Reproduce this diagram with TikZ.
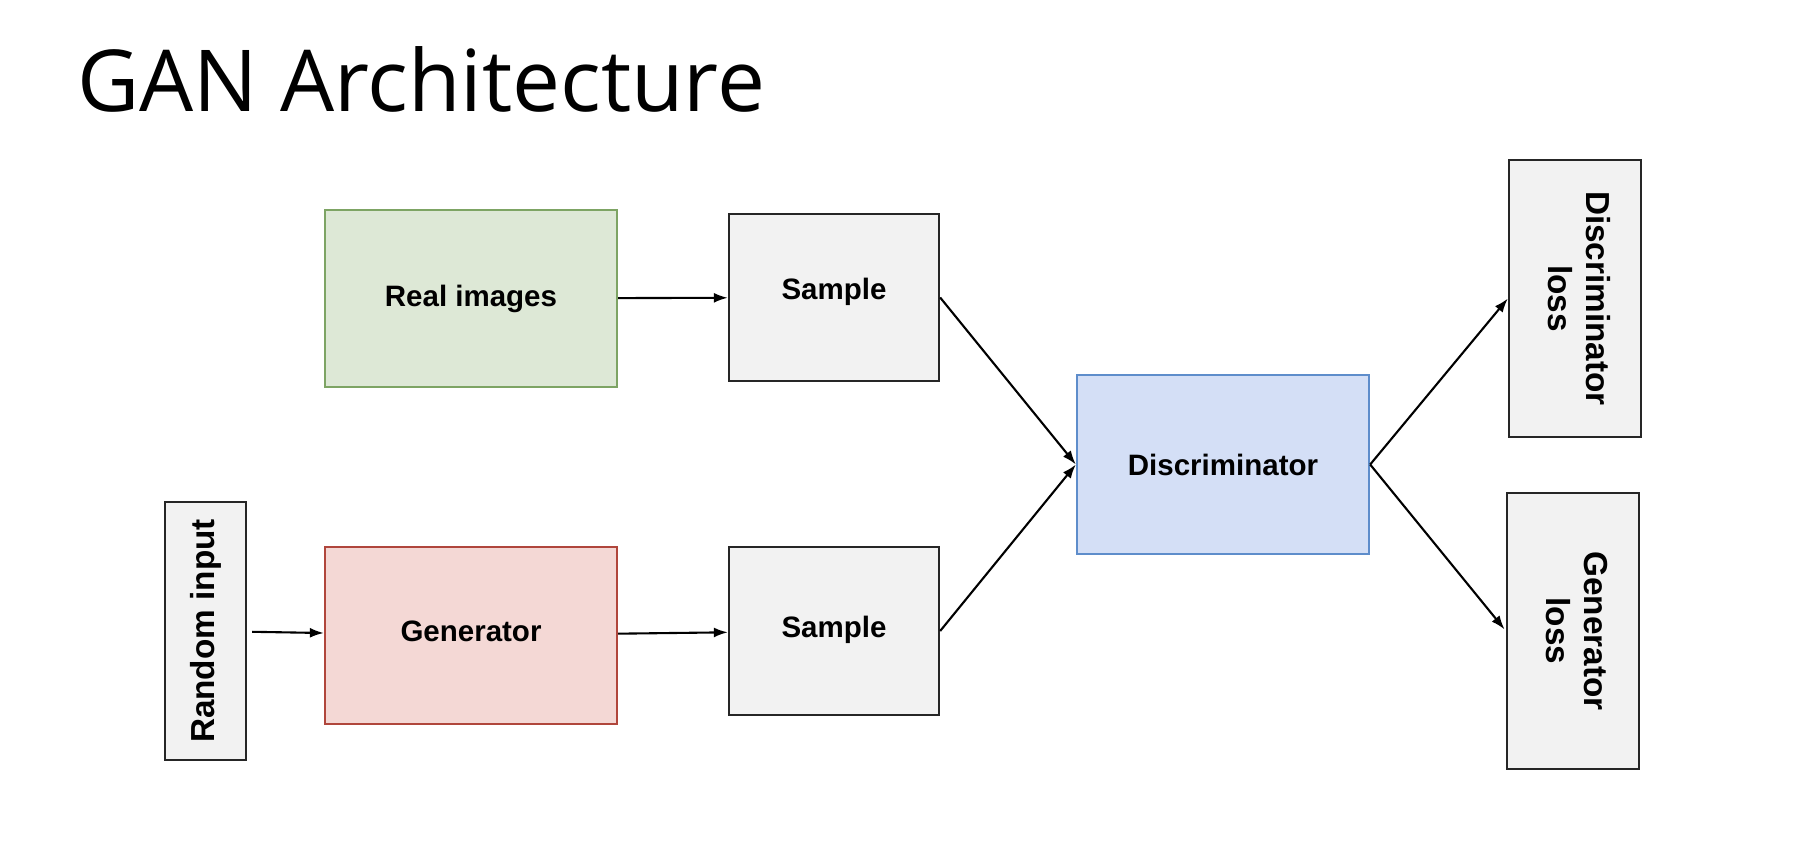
\documentclass[tikz,border=0pt]{standalone}
\usepackage{fontspec}
\setmainfont{Liberation Sans}
\newfontfamily\titlefont{Open Sans}
\usetikzlibrary{shapes,arrows.meta}

\definecolor{realfill}{HTML}{DDE8D6}
\definecolor{realdraw}{HTML}{7DA464}
\definecolor{genfill}{HTML}{F4D8D5}
\definecolor{gendraw}{HTML}{B0463C}
\definecolor{discfill}{HTML}{D4DFF6}
\definecolor{discdraw}{HTML}{5E8DCB}
\definecolor{boxfill}{HTML}{F2F2F2}

\begin{document}
\begin{tikzpicture}[x=1pt, y=-1pt, auto]
	\tikzstyle{block} = [rectangle, draw=black!85, fill=boxfill, line width=2.3pt, inner sep=0pt, font=\fontsize{29.5}{37}\selectfont\bfseries]
	\tikzstyle{vblock} = [block, font=\fontsize{33.3}{38}\selectfont\bfseries]
	\tikzstyle{line} = [draw, line width=2.1pt, -{Latex[length=14pt, width=10pt]}]
	\useasboundingbox (0,0) rectangle (1806,848);

	\node [anchor=base west, inner sep=0pt, font=\titlefont\fontsize{85.5}{100}\selectfont] (title) at (77,112) {GAN Architecture};

	\node [block, draw=realdraw, fill=realfill, minimum width=292, minimum height=177] (real) at (471,298.5) {Real images};
	\node [block, minimum width=210, minimum height=167, text depth=18pt] (sample1) at (834,297.5) {Sample};
	\node [vblock, minimum width=81, minimum height=258] (random) at (205.5,631) {\rotatebox{90}{Random input}};
	\node [block, draw=gendraw, fill=genfill, minimum width=292, minimum height=177, text depth=9pt] (gen) at (471,635.5) {Generator};
	\node [block, minimum width=210, minimum height=168, text depth=9pt] (sample2) at (834,631) {Sample};
	\node [block, draw=discdraw, fill=discfill, minimum width=292, minimum height=179] (disc) at (1223,464.5) {Discriminator};
	\node [vblock, minimum width=132, minimum height=277] (dloss) at (1575,298.5) {\rotatebox{-90}{\begin{tabular}{@{}c@{}}Discriminator\\loss\end{tabular}}};
	\node [vblock, minimum width=132, minimum height=276] (gloss) at (1573,631) {\rotatebox{-90}{\begin{tabular}{@{}c@{}}Generator\\loss\end{tabular}}};

	\path [line] (real) -- (sample1);
	\path [line, shorten <=5pt] (random) -- (gen);
	\path [line] (gen) -- (sample2);
	\path [line] (sample1.east) -- (disc.west);
	\path [line] (sample2.east) -- (disc.west);
	\path [line] (disc.east) -- (dloss.west);
	\path [line, shorten >=2pt] (disc.east) -- (gloss.west);

\end{tikzpicture}
\end{document}
